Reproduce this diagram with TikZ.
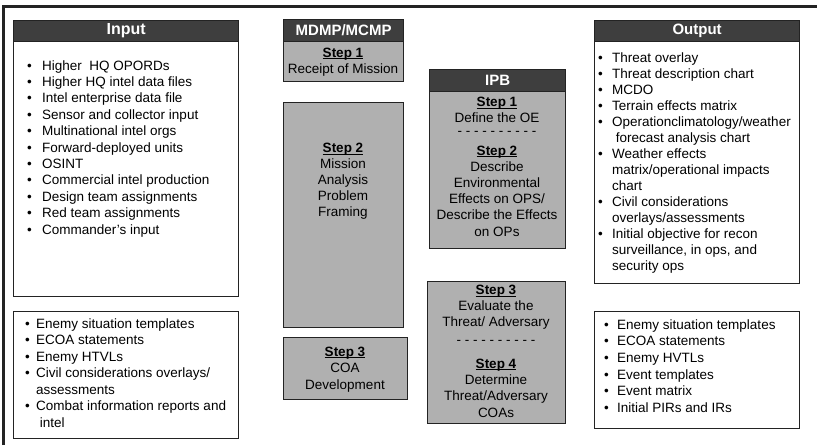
\documentclass[tikz,border=0pt]{standalone}
\usepackage{fontspec}
\setmainfont{Liberation Sans}
\definecolor{headgray}{RGB}{62,62,62}
\definecolor{boxgray}{RGB}{176,176,176}
\definecolor{edgegray}{RGB}{35,35,35}

% bold, underlined step title
\newcommand{\steptitle}[1]{\setbox0\hbox{\bfseries #1}\rlap{\rule[-1.7pt]{\wd0}{0.9pt}}\box0}
% bullet in a box of given width
\newcommand{\bul}[1]{\makebox[#1][l]{\textbullet}}

\tikzset{
  hdr/.style={draw=edgegray, fill=headgray, line width=1.2pt, text=white,
    font=\fontsize{15}{18}\selectfont\bfseries, inner sep=0pt, anchor=north west},
  wbox/.style={draw=edgegray, fill=white, line width=1.2pt, inner sep=0pt, anchor=north west},
  gbox/.style={wbox, fill=boxgray},
  lst/.style={inner sep=0pt, anchor=north west, font=\fontsize{13.5}{#1}\selectfont},
  lst/.default=16.4,
  stp/.style={inner sep=0pt, anchor=north, font=\fontsize{13.5}{#1}\selectfont},
  stp/.default=16.2,
  dsh/.style={inner sep=0pt, anchor=base, font=\fontsize{13.5}{16}\selectfont},
}

\begin{document}
\begin{tikzpicture}[x=1pt,y=-1pt]
\useasboundingbox (0,0) rectangle (817,445);

% frame along the top and left edges
\coordinate (frameBL) at (3,445);
\coordinate (frameTL) at (3,6);
\coordinate (frameTR) at (817,6);
\draw[line width=3pt, edgegray] (frameBL) -- (frameTL) -- (frameTR);

% ---------------- Input column ----------------
\node[wbox, minimum width=225pt, minimum height=255pt] (inbody) at (13,41) {};
\node[hdr, minimum width=225pt, minimum height=21pt, font=\fontsize{16}{18}\selectfont\bfseries] (inhead) at (13,20) {Input};
\node[lst=16.4] (inlist) at (27,58.5) {\begin{tabular}{@{}l@{}}
\bul{15pt}Higher~ HQ OPORDs\\
\bul{15pt}Higher HQ intel data files\\
\bul{15pt}Intel enterprise data file\\
\bul{15pt}Sensor and collector input\\
\bul{15pt}Multinational intel orgs\\
\bul{15pt}Forward-deployed units\\
\bul{15pt}OSINT\\
\bul{15pt}Commercial intel production\\
\bul{15pt}Design team assignments\\
\bul{15pt}Red team assignments\\
\bul{15pt}Commander’s input
\end{tabular}};

\node[wbox, minimum width=225pt, minimum height=127pt] (inlow) at (13,311) {};
\node[lst=16.5] (inlowlist) at (25,316.5) {\begin{tabular}{@{}l@{}}
\bul{11pt}Enemy situation templates\\
\bul{11pt}ECOA statements\\
\bul{11pt}Enemy HTVLs\\
\bul{11pt}Civil considerations overlays/\\
\hspace*{11pt}assessments\\
\bul{11pt}Combat information reports and\\
\hspace*{11pt}\ intel
\end{tabular}};

% ---------------- MDMP/MCMP column ----------------
\node[gbox, minimum width=120pt, minimum height=40pt] (m1) at (283,41) {};
\node[hdr, minimum width=120pt, minimum height=22pt] (mhead) at (283,19) {MDMP/MCMP};
\node[stp] (m1txt) at (343,45.5) {\begin{tabular}{@{}c@{}}
\steptitle{Step 1}\\Receipt of Mission\end{tabular}};

\node[gbox, minimum width=120pt, minimum height=225pt] (m2) at (283,102) {};
\node[stp=16] (m2txt) at (343,141.5) {\begin{tabular}{@{}c@{}}
\steptitle{Step 2}\\Mission\\Analysis\\Problem\\Framing\end{tabular}};

\node[gbox, minimum width=124pt, minimum height=62pt] (m3) at (283,337) {};
\node[stp=16.5] (m3txt) at (345,344.5) {\begin{tabular}{@{}c@{}}
\steptitle{Step 3}\\COA\\Development\end{tabular}};

% ---------------- IPB column ----------------
\node[gbox, minimum width=136pt, minimum height=157pt] (ipbtop) at (429,91) {};
\node[hdr, minimum width=136pt, minimum height=22pt] (ipbhead) at (429,69) {IPB};
\node[stp=16] (i1txt) at (497,95.5) {\begin{tabular}{@{}c@{}}
\steptitle{Step 1}\\Define the OE\end{tabular}};
\node[dsh] (idash1) at (497,135.7) {- - - - - - - - - -};
\node[stp=16.2] (i2txt) at (497,143.5) {\begin{tabular}{@{}c@{}}
\steptitle{Step 2}\\Describe\\Environmental\\Effects on OPS/\\Describe the Effects\\on OPs\end{tabular}};

\node[gbox, minimum width=138pt, minimum height=142pt] (ipblow) at (427,281) {};
\node[stp=16] (i3txt) at (496,283.5) {\begin{tabular}{@{}c@{}}
\steptitle{Step 3}\\Evaluate the\\Threat/ Adversary\end{tabular}};
\node[dsh] (idash2) at (496,344.7) {- - - - - - - - - -};
\node[stp=16.3] (i4txt) at (496,356.5) {\begin{tabular}{@{}c@{}}
\steptitle{Step 4}\\Determine\\Threat/Adversary\\COAs\end{tabular}};

% ---------------- Output column ----------------
\node[wbox, minimum width=205pt, minimum height=242pt] (outbody) at (594,41) {};
\node[hdr, minimum width=205pt, minimum height=21pt] (outhead) at (594,20) {Output};
\node[lst=16] (outlist) at (598,51.5) {\begin{tabular}{@{}l@{}}
\bul{14pt}Threat overlay\\
\bul{14pt}Threat description chart\\
\bul{14pt}MCDO\\
\bul{14pt}Terrain effects matrix\\
\bul{14pt}Operationclimatology/weather\\
\hspace*{14pt}\ forecast analysis chart\\
\bul{14pt}Weather effects\\
\hspace*{14pt}matrix/operational impacts\\
\hspace*{14pt}chart\\
\bul{14pt}Civil considerations\\
\hspace*{14pt}overlays/assessments\\
\bul{14pt}Initial objective for recon\\
\hspace*{14pt}surveillance, in ops, and\\
\hspace*{14pt}security ops
\end{tabular}};

\node[wbox, minimum width=205pt, minimum height=117pt] (outlow) at (594,311) {};
\node[lst=16.6] (outlowlist) at (604,317.5) {\begin{tabular}{@{}l@{}}
\bul{13pt}Enemy situation templates\\
\bul{13pt}ECOA statements\\
\bul{13pt}Enemy HVTLs\\
\bul{13pt}Event templates\\
\bul{13pt}Event matrix\\
\bul{13pt}Initial PIRs and IRs
\end{tabular}};
\end{tikzpicture}
\end{document}
